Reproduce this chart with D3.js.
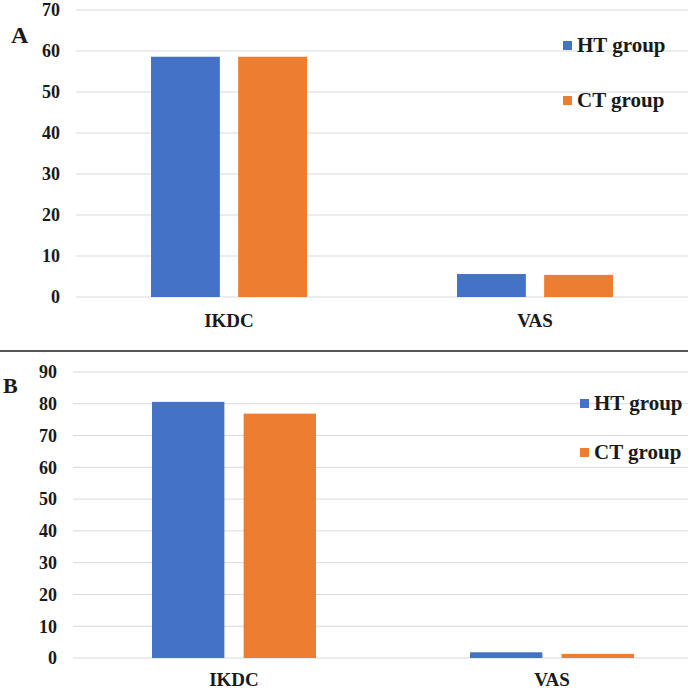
<!DOCTYPE html>
<html>
<head>
<meta charset="utf-8">
<script src="https://cdn.jsdelivr.net/npm/d3@7"></script>
<style>
  body { margin: 0; background: #fff; }
</style>
</head>
<body>
<svg id="chart" width="688" height="693"></svg>
<script>
const categories = ["IKDC", "VAS"];
const groups = ["HT group", "CT group"];
const colors = ["#4472C4", "#ED7D31"];

// panel A values
const valuesA_HT = [58.6, 5.6];
const valuesA_CT = [58.6, 5.4];
const ticksA = [0, 10, 20, 30, 40, 50, 60, 70];

// panel B values
const valuesB_HT = [80.6, 1.8];
const valuesB_CT = [76.9, 1.3];
const ticksB = [0, 10, 20, 30, 40, 50, 60, 70, 80, 90];

const svg = d3.select("#chart")
  .attr("font-family", "'Liberation Serif', 'Times New Roman', Times, 'DejaVu Serif', serif")
  .attr("font-weight", "bold");

drawPanel({
  letter: "A", letterX: 11, letterY: 43, letterSize: 24,
  series: [valuesA_HT, valuesA_CT], ticks: ticksA,
  yTop: 10, yZero: 297, gridX: 76, tickX: 60,
  xRange: [76, 688], groupWidth: 156,
  labelY: 327,
  legendX: 563, legendY: [41, 96]
});

drawPanel({
  letter: "B", letterX: 3, letterY: 393, letterSize: 22,
  series: [valuesB_HT, valuesB_CT], ticks: ticksB,
  yTop: 372, yZero: 658, gridX: 73, tickX: 57,
  xRange: [75, 711], groupWidth: 164,
  labelY: 686,
  legendX: 580, legendY: [399, 448]
});

// divider between the two panels
svg.append("line")
  .attr("x1", 0).attr("x2", 688)
  .attr("y1", 351).attr("y2", 351)
  .attr("stroke", "#555")
  .attr("stroke-width", 2);

function drawPanel(p) {
  const g = svg.append("g").attr("fill", "#1a1a1a");
  const maxTick = p.ticks[p.ticks.length - 1];

  const y = d3.scaleLinear()
    .domain([0, maxTick])
    .range([p.yZero, p.yTop]);

  const x = d3.scaleBand()
    .domain(categories)
    .range(p.xRange);

  const xSub = d3.scaleBand()
    .domain(groups)
    .range([0, p.groupWidth])
    .paddingInner(0.21);

  // gridlines
  g.selectAll("line.grid")
    .data(p.ticks)
    .join("line")
    .attr("class", "grid")
    .attr("x1", p.gridX).attr("x2", 688)
    .attr("y1", d => y(d)).attr("y2", d => y(d))
    .attr("stroke", "#d9d9d9")
    .attr("stroke-width", 1);

  // y tick labels
  g.selectAll("text.tick")
    .data(p.ticks)
    .join("text")
    .attr("class", "tick")
    .attr("x", p.tickX)
    .attr("y", d => y(d))
    .attr("dy", "0.35em")
    .attr("text-anchor", "end")
    .attr("font-size", "18px")
    .text(d => d);

  // bars
  const offset = (x.bandwidth() - p.groupWidth) / 2;
  p.series.forEach((vals, si) => {
    g.selectAll("rect.s" + si)
      .data(vals)
      .join("rect")
      .attr("class", "s" + si)
      .attr("x", (d, i) => x(categories[i]) + offset + xSub(groups[si]))
      .attr("y", d => y(d))
      .attr("width", xSub.bandwidth())
      .attr("height", d => p.yZero - y(d))
      .attr("fill", colors[si]);
  });

  // category labels
  g.selectAll("text.cat")
    .data(categories)
    .join("text")
    .attr("class", "cat")
    .attr("x", d => x(d) + x.bandwidth() / 2)
    .attr("y", p.labelY)
    .attr("text-anchor", "middle")
    .attr("font-size", "19px")
    .text(d => d);

  // legend
  groups.forEach((name, i) => {
    g.append("rect")
      .attr("x", p.legendX)
      .attr("y", p.legendY[i])
      .attr("width", 9)
      .attr("height", 9)
      .attr("fill", colors[i]);
    g.append("text")
      .attr("x", p.legendX + 14)
      .attr("y", p.legendY[i] + 11)
      .attr("font-size", "21px")
      .text(name);
  });

  // panel letter
  g.append("text")
    .attr("x", p.letterX)
    .attr("y", p.letterY)
    .attr("font-size", p.letterSize + "px")
    .text(p.letter);
}
</script>
</body>
</html>
